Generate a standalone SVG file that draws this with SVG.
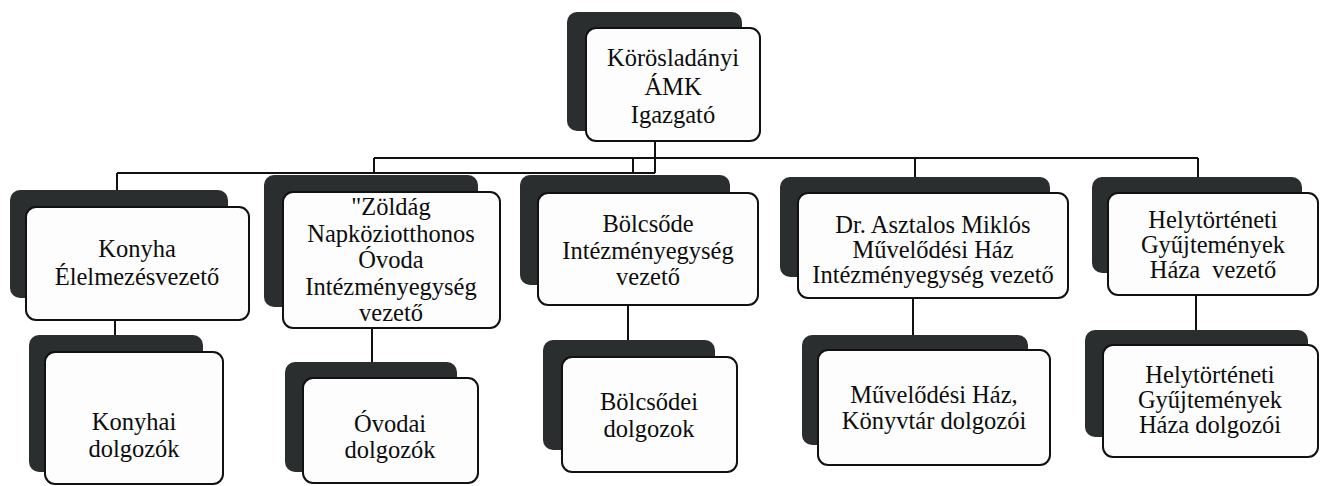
<svg xmlns="http://www.w3.org/2000/svg" width="1321" height="486" viewBox="0 0 1321 486">
<style>
.sh{fill:#2b2e2f;}
.bx{fill:#fdfdfd;stroke:#111;stroke-width:2;}
.t{font-family:'Liberation Serif','DejaVu Serif',serif;font-size:24.5px;fill:#0d0d0d;text-anchor:middle;}
.c{stroke:#111;stroke-width:2;fill:none;}
</style>
<rect width="1321" height="486" fill="#ffffff"/>
<g id="connectors">
<path class="c" d="M655 141V173M374 158H1198M117 173H655M117 173V190M374 158V173M633 158V173M915 158V177M1198 158V177"/>
<path class="c" d="M115 320V335M372 328V362M628 305V340M913 298V335M1196 295V330"/>
</g>
<g id="n0">
<rect class="sh" x="567" y="12" width="175" height="119" rx="10"/>
<rect class="bx" x="586" y="28" width="174" height="113" rx="10"/>
<text class="t"><tspan x="673" y="66">Körösladányi</tspan><tspan x="673" y="95">ÁMK</tspan><tspan x="673" y="123">Igazgató</tspan></text>
</g>
<g id="n1">
<rect class="sh" x="10" y="190" width="218" height="108" rx="10"/>
<rect class="bx" x="26" y="207" width="223" height="113" rx="10"/>
<text class="t"><tspan x="137" y="257">Konyha</tspan><tspan x="137" y="285">Élelmezésvezető</tspan></text>
</g>
<g id="n2">
<rect class="sh" x="264" y="175" width="214" height="132" rx="10"/>
<rect class="bx" x="283" y="192" width="217" height="136" rx="10"/>
<text class="t"><tspan x="391" y="215">"Zöldág</tspan><tspan x="391" y="242">Napköziotthonos</tspan><tspan x="391" y="268">Óvoda</tspan><tspan x="391" y="295">Intézményegység</tspan><tspan x="391" y="321">vezető</tspan></text>
</g>
<g id="n3">
<rect class="sh" x="520" y="175" width="210" height="110" rx="10"/>
<rect class="bx" x="538" y="193" width="220" height="112" rx="10"/>
<text class="t"><tspan x="648" y="232">Bölcsőde</tspan><tspan x="648" y="259">Intézményegység</tspan><tspan x="648" y="285">vezető</tspan></text>
</g>
<g id="n4">
<rect class="sh" x="780" y="177" width="270" height="100" rx="10"/>
<rect class="bx" x="798" y="193" width="270" height="105" rx="10"/>
<text class="t"><tspan x="933" y="233">Dr. Asztalos Miklós</tspan><tspan x="933" y="258">Művelődési Ház</tspan><tspan x="933" y="283">Intézményegység vezető</tspan></text>
</g>
<g id="n5">
<rect class="sh" x="1092" y="177" width="210" height="96" rx="10"/>
<rect class="bx" x="1108" y="193" width="210" height="102" rx="10"/>
<text class="t"><tspan x="1213" y="228">Helytörténeti</tspan><tspan x="1213" y="253">Gyűjtemények</tspan><tspan x="1213" y="278" xml:space="preserve">Háza  vezető</tspan></text>
</g>
<g id="n6">
<rect class="sh" x="29" y="335" width="174" height="137" rx="10"/>
<rect class="bx" x="45" y="352" width="178" height="132" rx="10"/>
<text class="t"><tspan x="134" y="430">Konyhai</tspan><tspan x="134" y="457">dolgozók</tspan></text>
</g>
<g id="n7">
<rect class="sh" x="285" y="362" width="172" height="110" rx="10"/>
<rect class="bx" x="303" y="378" width="175" height="105" rx="10"/>
<text class="t"><tspan x="390" y="432">Óvodai</tspan><tspan x="390" y="458">dolgozók</tspan></text>
</g>
<g id="n8">
<rect class="sh" x="543" y="340" width="172" height="110" rx="10"/>
<rect class="bx" x="562" y="357" width="175" height="115" rx="10"/>
<text class="t"><tspan x="649" y="410">Bölcsődei</tspan><tspan x="649" y="437">dolgozok</tspan></text>
</g>
<g id="n9">
<rect class="sh" x="802" y="335" width="226" height="110" rx="10"/>
<rect class="bx" x="818" y="350" width="232" height="115" rx="10"/>
<text class="t"><tspan x="934" y="403">Művelődési Ház,</tspan><tspan x="934" y="429">Könyvtár dolgozói</tspan></text>
</g>
<g id="n10">
<rect class="sh" x="1085" y="330" width="223" height="107" rx="10"/>
<rect class="bx" x="1103" y="345" width="215" height="112" rx="10"/>
<text class="t"><tspan x="1210" y="383">Helytörténeti</tspan><tspan x="1210" y="408">Gyűjtemények</tspan><tspan x="1210" y="433">Háza dolgozói</tspan></text>
</g>
</svg>
